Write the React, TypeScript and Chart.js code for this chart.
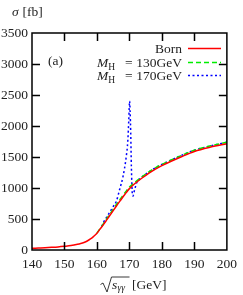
import React, { useEffect, useRef } from "react";
import { Chart, registerables } from "chart.js";

Chart.register(...registerables);

const xTickValues = [140, 150, 160, 170, 180, 190, 200];
const yTickValues = [0, 500, 1000, 1500, 2000, 2500, 3000, 3500];

const bornX = [140, 142, 144, 146, 148, 150, 152, 154, 155, 156, 157, 158, 159, 160, 161, 162, 163, 164, 165, 166, 167, 168, 169, 170, 171, 172, 174, 176, 178, 180, 183, 186, 190, 195, 200];
const bornY = [27, 32, 37, 43, 50, 60, 72, 92, 105, 122, 145, 178, 220, 270, 340, 410, 485, 560, 635, 710, 785, 855, 925, 990, 1040, 1085, 1165, 1240, 1305, 1360, 1435, 1505, 1590, 1660, 1715];

const mh130X = [160, 161, 162, 163, 164, 165, 166, 167, 168, 169, 170, 171, 172, 174, 176, 178, 180, 183, 186, 190, 195, 200];
const mh130Y = [275, 350, 425, 505, 582, 658, 735, 810, 880, 950, 1015, 1062, 1105, 1185, 1260, 1325, 1380, 1455, 1525, 1610, 1680, 1738];

const mh170X = [161.5, 162, 163, 164, 165, 166, 167, 168, 169, 169.5, 169.8, 170.05, 170.2, 170.4, 170.6, 170.9, 171.1, 171.4, 171.8, 172.4, 173, 174, 176, 178, 180, 183, 186, 190, 195, 200];
const mh170Y = [380, 445, 530, 615, 700, 790, 980, 1180, 1500, 1760, 2100, 2400, 2250, 1880, 1340, 900, 870, 930, 1010, 1110, 1140, 1185, 1260, 1325, 1380, 1455, 1525, 1610, 1678, 1738];

const legendMasses = ["130GeV", "170GeV"];

const SERIF = "'Liberation Serif', 'DejaVu Serif', serif";

const toPoints = (xs: number[], ys: number[]) => xs.map((x, i) => ({ x, y: ys[i] }));

const decorPlugin = {
  id: "decor",
  afterDraw(chart: any) {
    const ctx = chart.ctx as CanvasRenderingContext2D;
    const { left, right, top, bottom } = chart.chartArea;
    const xs = chart.scales.x;
    const ys = chart.scales.y;
    ctx.save();
    ctx.strokeStyle = "#000";
    ctx.lineWidth = 1.5;
    ctx.setLineDash([]);
    ctx.strokeRect(left, top, right - left, bottom - top);
    const tl = 8;
    ctx.beginPath();
    xTickValues.slice(1, -1).forEach((v) => {
      const px = Math.round(xs.getPixelForValue(v)) + 0.5;
      ctx.moveTo(px, bottom);
      ctx.lineTo(px, bottom - tl);
      ctx.moveTo(px, top);
      ctx.lineTo(px, top + tl);
    });
    yTickValues.slice(1, -1).forEach((v) => {
      const py = Math.round(ys.getPixelForValue(v)) + 0.5;
      ctx.moveTo(left, py);
      ctx.lineTo(left + tl, py);
      ctx.moveTo(right, py);
      ctx.lineTo(right - tl, py);
    });
    ctx.stroke();

    ctx.fillStyle = "#222";
    ctx.textBaseline = "alphabetic";
    // legend
    const ds = chart.data.datasets;
    const rowY = [53, 67, 80];
    const textRight = 182;
    ds.forEach((d: any, i: number) => {
      const y = rowY[i];
      ctx.textAlign = "right";
      if (i === 0) {
        ctx.font = `13.5px ${SERIF}`;
        ctx.fillText(d.label, textRight, y);
      } else {
        ctx.font = `13.5px ${SERIF}`;
        ctx.fillText(legendMasses[i - 1], textRight, y);
        ctx.fillText("=", 132.5, y);
        ctx.textAlign = "left";
        ctx.font = `italic 13.5px ${SERIF}`;
        ctx.fillText("M", 97, y);
        const mw = ctx.measureText("M").width;
        ctx.font = `9.5px ${SERIF}`;
        ctx.fillText("H", 97 + mw, y + 2.5);
      }
      ctx.save();
      ctx.strokeStyle = d.borderColor;
      ctx.lineWidth = d.borderWidth;
      ctx.setLineDash(d.borderDash || []);
      ctx.beginPath();
      ctx.moveTo(188, y - 4.5);
      ctx.lineTo(221, y - 4.5);
      ctx.stroke();
      ctx.restore();
    });

    // (a)
    ctx.textAlign = "left";
    ctx.font = `13.5px ${SERIF}`;
    ctx.fillText("(a)", 48, 65);

    // y title
    ctx.font = `italic 13.5px ${SERIF}`;
    ctx.fillText("σ", 12, 16);
    ctx.font = `13.5px ${SERIF}`;
    ctx.fillText("[fb]", 22.5, 16);

    // x title: sqrt(s_gg) [GeV]
    ctx.strokeStyle = "#222";
    ctx.lineWidth = 0.9;
    ctx.beginPath();
    ctx.moveTo(100.5, 284.5);
    ctx.lineTo(103, 283);
    ctx.lineTo(107, 292);
    ctx.lineTo(111.5, 277);
    ctx.lineTo(129.5, 277);
    ctx.stroke();
    ctx.font = `italic 13.5px ${SERIF}`;
    ctx.fillText("s", 112, 288.5);
    ctx.font = `italic 9.5px ${SERIF}`;
    ctx.fillText("γγ", 117.5, 291);
    ctx.font = `13.5px ${SERIF}`;
    ctx.fillText("[GeV]", 132, 289);
    ctx.restore();
  },
};

export default function App() {
  const ref = useRef<HTMLCanvasElement | null>(null);
  useEffect(() => {
    if (!ref.current) return;
    const chart = new Chart(ref.current, {
      type: "line",
      data: {
        datasets: [
          {
            label: "Born",
            data: toPoints(bornX, bornY),
            borderColor: "#ff0000",
            borderWidth: 1.5,
            pointRadius: 0,
            fill: false,
            cubicInterpolationMode: "monotone",
          },
          {
            label: "MH = 130GeV",
            data: toPoints(mh130X, mh130Y),
            borderColor: "#00ee00",
            borderWidth: 1.5,
            borderDash: [5, 3],
            pointRadius: 0,
            fill: false,
            cubicInterpolationMode: "monotone",
          },
          {
            label: "MH = 170GeV",
            data: toPoints(mh170X, mh170Y),
            borderColor: "#0000ff",
            borderWidth: 1.5,
            borderDash: [2, 2.5],
            pointRadius: 0,
            fill: false,
            cubicInterpolationMode: "monotone",
          },
        ],
      },
      options: {
        responsive: false,
        animation: false,
        layout: { padding: { left: 0, top: 33, right: 11, bottom: 0 } },
        plugins: { legend: { display: false }, tooltip: { enabled: false } },
        scales: {
          x: {
            type: "linear",
            min: 140,
            max: 200,
            afterBuildTicks: (s: any) => {
              s.ticks = xTickValues.map((v) => ({ value: v }));
            },
            afterFit: (s: any) => {
              s.height = 45;
            },
            grid: { display: false, drawTicks: false },
            border: { display: false },
            ticks: {
              padding: 6,
              color: "#222",
              font: { family: SERIF, size: 13.5 },
              maxRotation: 0,
              callback: (v: any) => String(v),
            },
          },
          y: {
            type: "linear",
            min: 0,
            max: 3500,
            afterBuildTicks: (s: any) => {
              s.ticks = yTickValues.map((v) => ({ value: v }));
            },
            afterFit: (s: any) => {
              s.width = 32;
            },
            grid: { display: false, drawTicks: false },
            border: { display: false },
            ticks: {
              padding: 4,
              color: "#222",
              font: { family: SERIF, size: 13.5 },
              callback: (v: any) => String(v),
            },
          },
        },
      },
      plugins: [decorPlugin],
    });
    return () => chart.destroy();
  }, []);
  return (
    <div style={{ position: "absolute", left: 0, top: 0, width: 243, height: 295, background: "#fff" }}>
      <canvas ref={ref} width={243} height={295} style={{ display: "block" }} />
    </div>
  );
}
